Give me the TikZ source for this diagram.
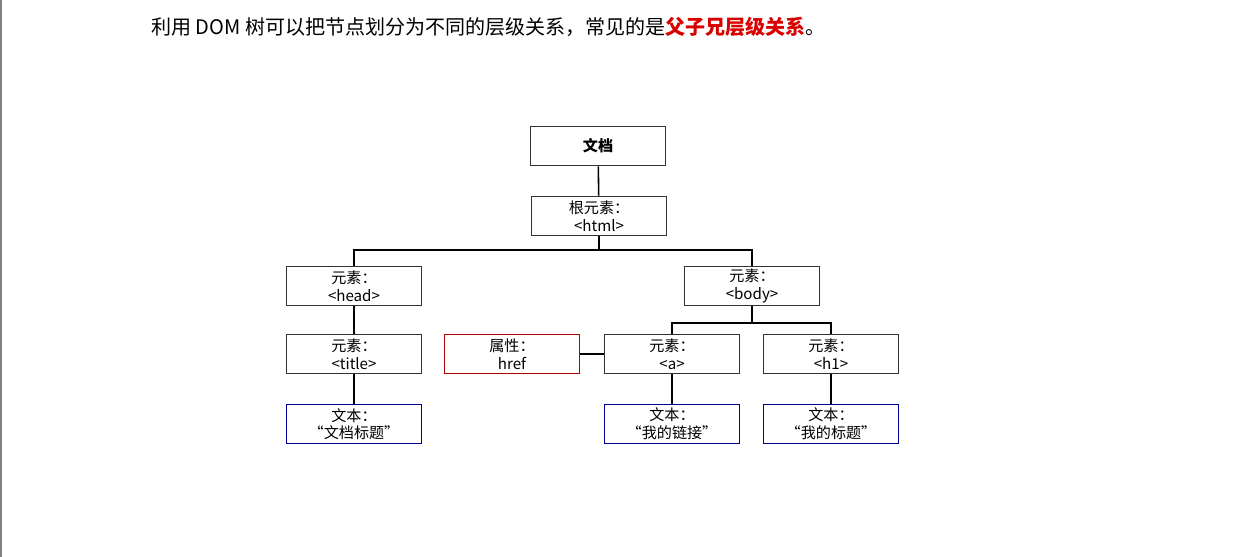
\documentclass[tikz,border=0pt]{standalone}
\usepackage{fontspec}
\setmainfont{Noto Sans CJK SC}
\usepackage{xcolor}

\begin{document}
\begin{tikzpicture}[x=0.02cm,y=-0.02cm,
		box/.style={draw=black!80,line width=0.9pt,minimum width=2.7cm,minimum height=0.78cm,inner sep=0pt,align=center,font=\fontsize{8.6}{10}\selectfont},
		attr/.style={box,draw=red!70!black},
		txt/.style={box,draw=blue!60!black}]
		\useasboundingbox (0,0) rectangle (1251,557);
		\draw[gray,line width=1pt] (1,0) -- (1,557);
		\node[anchor=west,font=\fontsize{11.4}{13}\selectfont] (title) at (145,27) {利用 DOM 树可以把节点划分为不同的层级关系，常见的是\textcolor{red!85!black}{\bfseries 父子兄层级关系}。};
		\node[box] (doc) at (598,146) {\bfseries 文档};
		\node[box] (html) at (599,216) {根元素：\\<html>};
		\node[box] (head) at (354,286) {元素：\\<head>};
		\node[box] (body) at (752,286) {元素：\\<body>};
		\node[box] (ttl) at (354,354) {元素：\\<title>};
		\node[attr] (href) at (512,354) {属性：\\href};
		\node[box] (a) at (672,354) {元素：\\<a>};
		\node[box] (h1) at (831,354) {元素：\\<h1>};
		\node[txt] (t1) at (354,424) {文本：\\“文档标题”};
		\node[txt] (t2) at (672,424) {文本：\\“我的链接”};
		\node[txt] (t3) at (831,424) {文本：\\“我的标题”};
		\draw[line width=0.9pt] (doc) -- (html);
		\draw[line width=0.9pt] (html.south) -- ++(0,14) -| (head.north);
		\draw[line width=0.9pt] (html.south) -- ++(0,14) -| (body.north);
		\draw[line width=0.9pt] (body.south) -- ++(0,17) -| (a.north);
		\draw[line width=0.9pt] (body.south) -- ++(0,17) -| (h1.north);
		\draw[line width=0.9pt] (head) -- (ttl);
		\draw[line width=0.9pt] (ttl) -- (t1);
		\draw[line width=0.9pt] (href) -- (a);
		\draw[line width=0.9pt] (a) -- (t2);
		\draw[line width=0.9pt] (h1) -- (t3);
	\end{tikzpicture}
\end{document}
